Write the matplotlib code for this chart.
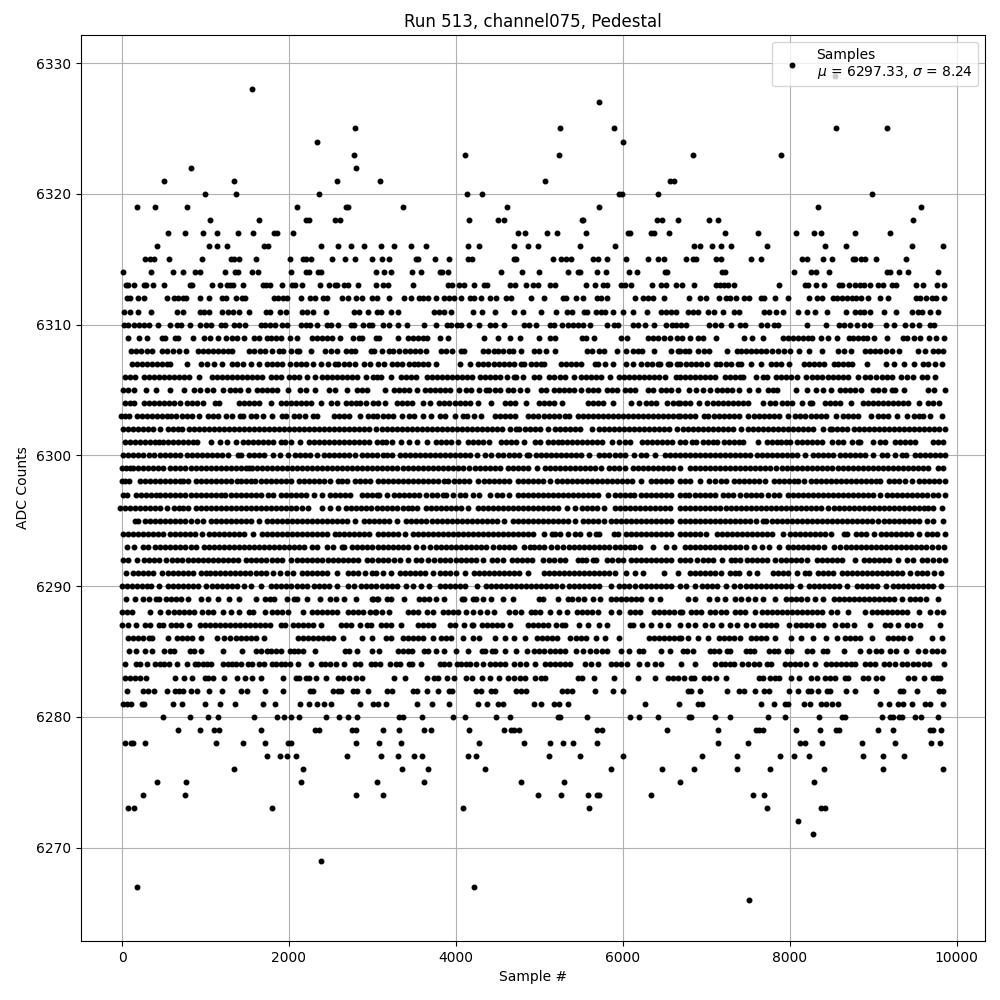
import matplotlib
matplotlib.use('Agg')
import matplotlib.pyplot as plt

# sample numbers, one list per ADC level
x_6329 = [8544]
x_6328 = [1556]
x_6327 = [5712]
x_6325 = [2792, 5244, 5892, 8556, 9168]
x_6324 = [2336, 6000]
x_6323 = [2780, 4112, 5232, 6840, 7896]
x_6322 = [824, 2804]
x_6321 = [500, 1340, 2576, 3092, 5064, 6564, 6612]
x_6320 = [992, 1364, 2360, 4136, 4316, 5952, 5988, 6420, 8988]
x_6319 = [176, 392, 776, 2096, 2684, 2708, 3368, 4616, 5712, 8340, 9576]
x_6318 = [1052, 1640, 2204, 2240, 2552, 2612, 4160, 4508, 4580, 5508, 5520, 6408, 6468, 6660, 7032, 7140, 9480]
x_6317 = [548, 752, 968, 1136, 1388, 1568, 1820, 1856, 2048, 4748, 4832, 5088, 5208, 5556, 6060, 6084, 6336, 6372, 6552, 7224, 7620, 8076, 8292, 8376, 8784, 9204]
x_6316 = [416, 1040, 1136, 1256, 1700, 1748, 2384, 2588, 2744, 2900, 3104, 3260, 3464, 3644, 4148, 4280, 4700, 4868, 4980, 5484, 5904, 6852, 6924, 7068, 7176, 7296, 7728, 8424, 8676, 9468, 9840]
x_6315 = [272, 332, 380, 560, 956, 1304, 1340, 1400, 1604, 2012, 2168, 2204, 2264, 2516, 2672, 2792, 2996, 3116, 3200, 3524, 3548, 3752, 3920, 4148, 4196, 4700, 4724,
          5160, 5256, 5316, 5376, 5640, 5700, 5808, 6036, 6300, 6420, 6492, 6756, 6840, 6876, 7116, 7176, 7536, 7656, 8148, 8208, 8400, 8508, 8760, 8784, 8856, 8904, 9036, 9396]
x_6314 = [8, 344, 608, 728, 872, 932, 1232, 1352, 1388, 1556, 1628, 2024, 2204, 2240, 2348, 2384, 3044, 3140, 3224, 3476, 3584, 3812, 3836, 3908, 4544, 4796,
          4992, 5340, 5460, 5484, 5688, 5796, 6072, 6168, 6504, 6528, 7188, 7224, 8052, 8256, 8316, 8472, 9168, 9204, 9312, 9420, 9780]
x_6313 = [44, 68, 140, 260, 284, 368, 500, 812, 836, 1076, 1172, 1256, 1292, 1328, 1448, 1688, 1724, 1772, 1920, 2036, 2072, 2156, 2372, 2480, 2552, 2576, 2660, 2708, 2828, 3044, 3128, 3188, 3488, 3900, 3956, 4040, 4100, 4220, 4340, 4376, 4652, 4712, 4844,
          4920, 4980, 5124, 5184, 5556, 5664, 5760, 5808, 5976, 6024, 6096, 6348, 6456, 6516, 6636, 6708, 6852, 7116, 7164, 7212, 7260, 7332, 7872, 8184, 8220, 8316, 8412, 8592, 8628, 8712, 8784, 8844, 8892, 8964, 9060, 9120, 9228, 9276, 9516, 9600, 9768, 9852]
x_6312 = [56, 92, 188, 260, 536, 620, 668, 728, 764, 932, 1040, 1196, 1244, 1364, 1436, 1472, 1820, 1868, 1928, 1976, 2144, 2252, 2312, 2408, 2456, 2636, 2708, 2804, 2876, 2996, 3056, 3200, 3380, 3464, 3560, 3608, 3668, 3764, 3860, 3920, 3980, 4064, 4172, 4220, 4304, 4412, 4484, 4604, 4664,
          4896, 5052, 5280, 5316, 5436, 5520, 5688, 5736, 5808, 6144, 6240, 6300, 6360, 6492, 6792, 6924, 6996, 7152, 7236, 7284, 7356, 7452, 7512, 7656, 7692, 7824, 7980, 8232, 8328, 8388, 8520, 8568, 8628, 8688, 8748, 8796, 8856, 8940, 9084, 9180, 9516, 9564, 9636, 9708, 9756, 9852]
x_6311 = [20, 92, 188, 344, 656, 728, 932, 980, 1040, 1196, 1268, 1328, 1400, 1520, 1724, 1772, 1892, 1964, 2156, 2216, 2288, 2444, 2780, 2840, 2948, 3056, 3104, 3224, 3308, 3740, 3800, 3860, 3944, 4208, 4316, 4472, 4700, 4808,
          5016, 5196, 5328, 5388, 5532, 5568, 5676, 5736, 5784, 5880, 6000, 6120, 6288, 6456, 6516, 6576, 6636, 6780, 6840, 6900, 7020, 7092, 7200, 7332, 7392, 7692, 7752, 7836, 7920, 8100, 8208, 8304, 8448, 8676, 8784, 8844, 8892, 8964, 9132, 9276, 9468, 9540, 9588, 9684, 9780]
x_6310 = [20, 68, 140, 200, 260, 320, 436, 572, 656, 704, 812, 932, 1004, 1064, 1184, 1232, 1340, 1400, 1472, 1664, 1712, 1772, 1832, 1916, 1976, 2144, 2204, 2252, 2336, 2456, 2504, 2588, 2744, 2780, 2888, 2960, 2996, 3128, 3200, 3308, 3416, 3620, 3764, 3896, 3944, 4016, 4064, 4160, 4280, 4412, 4472, 4580, 4820, 4880,
          4956, 5124, 5172, 5268, 5340, 5400, 5460, 5520, 5604, 5808, 5892, 5940, 6120, 6180, 6264, 6372, 6516, 6588, 6636, 6696, 6756, 7032, 7104, 7176, 7296, 7404, 7464, 7656, 7728, 7812, 7860, 8208, 8436, 8592, 8652, 8724, 8808, 8892, 8964, 9156, 9252, 9384, 9468, 9552, 9684, 9732]
x_6309 = [68, 200, 296, 480, 516, 640, 672, 848, 980, 1052, 1148, 1244, 1320, 1380, 1460, 1580, 1640, 1740, 1790, 1850, 1900, 2012, 2100, 2280, 2340, 2400, 2460, 2516, 2612, 2768, 2840, 2870, 3040, 3080, 3312, 3424, 3480, 3540, 3600, 3650, 3804, 3900, 4332, 4500, 4644, 4764, 4992, 5124, 5184, 5516, 5564, 5652, 5976, 6052, 6300, 6360, 6420, 6492, 6568, 6652,
          6712, 6808, 6904, 6964, 7120, 7456, 7552, 7684, 7924, 7984, 8040, 8100, 8160, 8220, 8264, 8380, 8456, 8564, 8704, 8760, 8820, 8880, 8924, 9004, 9160, 9352, 9404, 9484, 9564, 9664, 9756, 9844]
x_6308 = [108, 170, 230, 300, 360, 476, 540, 610, 680, 764, 908, 970, 1030, 1090, 1150, 1210, 1270, 1320, 1520, 1580, 1650, 1710, 1800, 1880, 1930, 2030, 2090, 2120, 2260, 2430, 2500, 2570, 2680, 2740, 2790, 2980, 3020, 3112, 3200, 3250, 3324, 3390, 3450, 3510, 3570, 3644, 3816, 3880, 3950, 4060, 4100, 4320, 4380, 4452, 4510, 4570, 4630, 4684, 4780, 4936, 5000, 5080, 5184, 5570, 5630, 5712, 5772, 5932, 6032, 6120, 6180, 6232, 6376, 6572, 6660,
          6690, 6740, 6790, 6904, 6970, 7032, 7252, 7364, 7420, 7480, 7540, 7600, 7660, 7720, 7790, 7864, 7932, 8000, 8116, 8236, 8392, 8572, 8644, 8728, 8904, 8960, 9020, 9080, 9150, 9220, 9304, 9532, 9616, 9712, 9770, 9832]
x_6307 = [116, 176, 236, 296, 356, 416, 476, 536, 580, 780, 948, 1020, 1104, 1200, 1320, 1380, 1450, 1548, 1644, 1740, 1800, 1860, 1920, 2010, 2080, 2140, 2200, 2290, 2384, 2470, 2550, 2590, 2660, 2720, 2790, 2900, 2970, 3072, 3144, 3232, 3290, 3350, 3440, 3492, 3550, 3610, 3670, 3764, 4044, 4164, 4260, 4320, 4380, 4460, 4520, 4580, 4640, 4700, 4780, 4810, 4900, 4960, 5020, 5050, 5260, 5320, 5380, 5440, 5500, 5670, 5700, 5790, 5880, 6040, 6124, 6220, 6290, 6350, 6420, 6450, 6540, 6570, 6650,
          6690, 6760, 6820, 6880, 6940, 7004, 7120, 7160, 7240, 7300, 7380, 7420, 7532, 7656, 7770, 7830, 7900, 7996, 8170, 8230, 8290, 8350, 8410, 8524, 8580, 8640, 8700, 8744, 8924, 9148, 9252, 9364, 9484, 9592, 9660, 9744, 9824]
x_6306 = [40, 90, 160, 260, 320, 380, 440, 500, 560, 620, 680, 740, 800, 920, 1080, 1140, 1200, 1260, 1320, 1380, 1440, 1500, 1560, 1620, 1680, 1780, 1840, 1910, 2000, 2060, 2120, 2210, 2312, 2400, 2460, 2520, 2580, 2640, 2700, 2760, 2820, 2920, 3010, 3060, 3100, 3220, 3340, 3400, 3460, 3520, 3652, 3710, 3770, 3830, 3890, 3950, 4010, 4070, 4130, 4192, 4284, 4344, 4404, 4464, 4524, 4612, 4700, 4720, 4800, 4930, 4990, 5120, 5180, 5250, 5310, 5420, 5500, 5560, 5620, 5680, 5740, 5844, 5952, 6012, 6072, 6132, 6192, 6252, 6312, 6372, 6432, 6500, 6640,
          6684, 6740, 6800, 6860, 6920, 6980, 7040, 7104, 7220, 7280, 7340, 7400, 7440, 7600, 7680, 7732, 7840, 7900, 7960, 8010, 8092, 8192, 8272, 8332, 8392, 8452, 8512, 8572, 8632, 8692, 8816, 8900, 8960, 9030, 9110, 9170, 9230, 9330, 9400, 9480, 9590, 9650, 9740]
x_6305 = [8, 68, 140, 288, 404, 580, 740, 860, 928, 1020, 1090, 1212, 1290, 1350, 1410, 1510, 1616, 1680, 1740, 1800, 1860, 1990, 2130, 2200, 2310, 2480, 2548, 2692, 2820, 2880, 2930, 3156, 3264, 3320, 3380, 3440, 3530, 3632, 3690, 3750, 3810, 3870, 3930, 4032, 4120, 4180, 4280, 4360, 4400, 4472, 4524, 4620, 4680, 4770, 4852, 5020, 5080, 5172, 5232, 5292, 5352, 5412, 5500, 5580, 5640, 5700, 5810, 5870, 5930, 6024, 6090, 6140, 6300, 6360, 6452, 6512, 6572, 6660,
          6790, 6880, 6960, 7040, 7128, 7190, 7250, 7310, 7396, 7512, 7624, 7740, 7800, 7850, 8072, 8212, 8320, 8400, 8496, 8596, 8660, 8720, 8780, 8856, 9000, 9060, 9130, 9224, 9260, 9372, 9652, 9724, 9856]
x_6304 = [32, 100, 140, 260, 320, 380, 440, 500, 560, 620, 700, 776, 840, 900, 970, 1108, 1160, 1400, 1460, 1520, 1580, 1640, 1780, 1908, 1968, 2028, 2088, 2148, 2208, 2268, 2388, 2500, 2570, 2680, 2740, 2800, 2850, 2924, 3010, 3072, 3152, 3292, 3352, 3412, 3472, 3604, 3692, 3792, 3860, 3920, 3990, 4050, 4110, 4170, 4270, 4424, 4592, 4652, 4712, 4844, 4992, 5052, 5112, 5172, 5272, 5580, 5640, 5700, 5760, 5884, 6100, 6190, 6272, 6332, 6392, 6524, 6600, 6660,
          6690, 6750, 6810, 6910, 7004, 7084, 7144, 7204, 7264, 7324, 7384, 7444, 7504, 7676, 7760, 7820, 7912, 7972, 8032, 8144, 8240, 8270, 8420, 8480, 8540, 8600, 8736, 8872, 8932, 8992, 9052, 9112, 9172, 9232, 9292, 9352, 9412, 9544, 9660, 9720, 9790]
x_6303 = [-8, 40, 84, 180, 240, 300, 360, 420, 480, 540, 590, 652, 720, 780, 840, 920, 1030, 1090, 1150, 1250, 1320, 1410, 1450, 1540, 1600, 1690, 1792, 1920, 1960, 2060, 2120, 2190, 2290, 2340, 2540, 2600, 2660, 2720, 2852, 2950, 3010, 3050, 3124, 3184, 3244, 3352, 3440, 3500, 3610, 3704, 3804, 3864, 3984, 4080, 4130, 4220, 4304, 4464, 4524, 4584, 4644, 4704, 4860, 4920, 4980, 5060, 5120, 5180, 5230, 5312, 5350, 5460, 5520, 5580, 5640, 5700, 5760, 5820, 5880, 5940, 6000, 6060, 6120, 6180, 6240, 6300, 6360, 6420, 6480, 6540, 6600, 6660,
          6690, 6750, 6810, 6870, 6970, 7024, 7090, 7150, 7210, 7270, 7330, 7390, 7496, 7572, 7632, 7692, 7752, 7812, 7872, 7976, 8060, 8120, 8180, 8256, 8316, 8376, 8436, 8552, 8632, 8692, 8752, 8812, 8968, 9060, 9120, 9180, 9290, 9404, 9490, 9550, 9600, 9684, 9824]
x_6302 = [8, 68, 128, 188, 248, 308, 368, 452, 550, 610, 670, 720, 800, 860, 920, 980, 1040, 1100, 1160, 1220, 1280, 1340, 1400, 1460, 1520, 1580, 1640, 1700, 1760, 1820, 1880, 1940, 2000, 2060, 2120, 2180, 2240, 2300, 2360, 2420, 2480, 2540, 2600, 2660, 2720, 2780, 2840, 2900, 2960, 3040, 3112, 3172, 3232, 3292, 3352, 3412, 3472, 3532, 3592, 3652, 3712, 3772, 3832, 3892, 3952, 4012, 4072, 4132, 4192, 4252, 4312, 4372, 4432, 4492, 4552, 4644, 4720, 4750, 4824, 4884, 4944, 5004, 5104, 5192, 5252, 5312, 5372, 5432, 5492, 5632, 5712, 5772, 5832, 5892, 5952, 6012, 6072, 6132, 6192, 6252, 6312, 6372, 6432, 6492, 6552, 6644,
          6724, 6784, 6844, 6904, 6964, 7024, 7084, 7144, 7204, 7264, 7324, 7416, 7504, 7564, 7624, 7684, 7744, 7804, 7864, 7924, 7984, 8044, 8104, 8164, 8224, 8284, 8396, 8480, 8510, 8560, 8620, 8680, 8764, 8824, 8884, 8944, 9004, 9064, 9124, 9184, 9244, 9304, 9364, 9424, 9484, 9544, 9604, 9664, 9724, 9784, 9864]
x_6301 = [40, 100, 160, 220, 280, 340, 400, 440, 490, 550, 610, 670, 730, 790, 850, 900, 1060, 1168, 1260, 1360, 1450, 1510, 1570, 1630, 1690, 1750, 1810, 1900, 1950, 2030, 2132, 2240, 2300, 2360, 2420, 2480, 2540, 2600, 2660, 2720, 2780, 2840, 2900, 2960, 3060, 3120, 3160, 3240, 3340, 3440, 3530, 3652, 3760, 3820, 3880, 3940, 4030, 4150, 4210, 4270, 4330, 4400, 4540, 4600, 4660, 4720, 4810, 4950, 5010, 5100, 5160, 5220, 5270, 5330, 5390, 5450, 5510, 5570, 5630, 5690, 5750, 5870, 5950, 6030, 6090, 6230, 6290, 6350, 6410, 6470, 6530, 6590, 6680,
          6740, 6824, 6880, 6960, 7020, 7080, 7130, 7210, 7270, 7330, 7390, 7440, 7624, 7730, 7790, 7850, 7900, 7950, 8000, 8090, 8150, 8210, 8270, 8330, 8390, 8500, 8580, 8640, 8740, 8820, 8840, 9000, 9080, 9136, 9260, 9320, 9380, 9440, 9500, 9720, 9780, 9830]
x_6300 = [8, 68, 128, 188, 248, 320, 380, 460, 520, 580, 640, 700, 780, 840, 900, 960, 1020, 1080, 1140, 1200, 1270, 1390, 1430, 1520, 1580, 1640, 1700, 1810, 1890, 1990, 2070, 2130, 2190, 2250, 2330, 2420, 2480, 2540, 2600, 2660, 2720, 2790, 2880, 2940, 3000, 3060, 3130, 3170, 3232, 3330, 3390, 3450, 3510, 3570, 3630, 3690, 3750, 3810, 3870, 3930, 3990, 4050, 4110, 4170, 4250, 4350, 4420, 4510, 4570, 4630, 4690, 4760, 4850, 4880, 4960, 5020, 5080, 5140, 5200, 5260, 5320, 5380, 5440, 5500, 5600, 5720, 5780, 5840, 5900, 5960, 6020, 6130, 6220, 6280, 6380, 6510, 6570, 6630, 6680,
          6740, 6800, 6860, 6920, 6980, 7040, 7100, 7160, 7220, 7280, 7340, 7400, 7460, 7520, 7610, 7670, 7730, 7790, 7850, 7910, 7970, 8030, 8090, 8180, 8280, 8340, 8400, 8460, 8520, 8600, 8660, 8720, 8780, 8840, 8900, 9000, 9100, 9160, 9260, 9350, 9390, 9500, 9560, 9620, 9680, 9740, 9800, 9860]
x_6299 = [0, 50, 100, 130, 190, 250, 310, 370, 430, 490, 580, 640, 700, 760, 820, 880, 940, 1000, 1060, 1120, 1180, 1240, 1300, 1360, 1420, 1480, 1520, 1560, 1620, 1680, 1740, 1800, 1860, 1920, 1980, 2040, 2100, 2160, 2220, 2280, 2340, 2400, 2460, 2520, 2580, 2640, 2700, 2760, 2820, 2880, 2940, 3000, 3060, 3120, 3180, 3240, 3300, 3360, 3420, 3480, 3540, 3600, 3660, 3720, 3780, 3840, 3900, 3960, 4020, 4080, 4160, 4230, 4290, 4350, 4410, 4470, 4530, 4620, 4680, 4740, 4800, 4860, 4970, 5070, 5130, 5190, 5250, 5310, 5370, 5430, 5490, 5550, 5610, 5670, 5740, 5830, 5890, 5950, 6020, 6120, 6180, 6240, 6300, 6360, 6420, 6480, 6540, 6600, 6680,
          6800, 6860, 6920, 6980, 7040, 7100, 7160, 7220, 7280, 7340, 7400, 7460, 7520, 7580, 7640, 7700, 7760, 7840, 7910, 7970, 8030, 8090, 8150, 8210, 8270, 8330, 8390, 8440, 8500, 8580, 8640, 8700, 8760, 8820, 8880, 8940, 9000, 9060, 9120, 9180, 9240, 9300, 9360, 9420, 9480, 9540, 9600, 9660, 9770, 9830]
x_6298 = [0, 40, 80, 212, 270, 330, 390, 450, 510, 570, 630, 690, 730, 790, 880, 940, 1000, 1060, 1120, 1180, 1240, 1300, 1380, 1420, 1480, 1540, 1590, 1670, 1730, 1790, 1850, 1910, 1970, 2030, 2120, 2180, 2240, 2300, 2360, 2420, 2490, 2590, 2630, 2700, 2790, 2850, 2910, 2970, 3070, 3130, 3190, 3250, 3310, 3370, 3430, 3490, 3550, 3610, 3670, 3730, 3790, 3860, 3900, 3980, 4040, 4100, 4160, 4260, 4340, 4400, 4460, 4520, 4580, 4640, 4740, 4800, 4860, 4920, 4980, 5040, 5130, 5210, 5270, 5330, 5390, 5450, 5510, 5570, 5630, 5690, 5750, 5810, 5870, 5930, 5990, 6050, 6110, 6220, 6340, 6400, 6460, 6520, 6580, 6680,
          6740, 6800, 6920, 7030, 7100, 7170, 7240, 7330, 7390, 7450, 7510, 7570, 7630, 7700, 7810, 7870, 7930, 7990, 8050, 8100, 8170, 8250, 8310, 8370, 8430, 8490, 8550, 8610, 8670, 8730, 8790, 8850, 8910, 8970, 9030, 9080, 9190, 9250, 9310, 9380, 9460, 9550, 9610, 9670, 9730, 9790, 9860]
x_6297 = [8, 60, 170, 230, 290, 350, 410, 450, 520, 580, 640, 700, 760, 820, 880, 940, 1000, 1060, 1120, 1180, 1230, 1300, 1360, 1420, 1480, 1540, 1600, 1660, 1750, 1810, 1900, 1960, 2020, 2080, 2140, 2200, 2300, 2400, 2490, 2550, 2610, 2670, 2730, 2880, 2940, 2990, 3060, 3080, 3180, 3260, 3320, 3380, 3440, 3500, 3560, 3640, 3710, 3770, 3850, 3884, 3960, 4050, 4110, 4200, 4280, 4412, 4490, 4550, 4640, 4740, 4800, 4860, 4920, 4980, 5040, 5100, 5160, 5220, 5280, 5340, 5400, 5460, 5520, 5580, 5640, 5700, 5820, 5900, 5960, 6020, 6090, 6130, 6220, 6280, 6340, 6400, 6460, 6520, 6580, 6680,
          6740, 6790, 6860, 6920, 6980, 7040, 7100, 7200, 7260, 7320, 7400, 7470, 7530, 7590, 7650, 7740, 7810, 7870, 7980, 8040, 8100, 8160, 8220, 8280, 8340, 8400, 8460, 8520, 8580, 8640, 8700, 8760, 8820, 8880, 8940, 9000, 9080, 9170, 9230, 9290, 9350, 9410, 9470, 9530, 9590, 9650, 9710, 9770, 9860]
x_6296 = [-20, 40, 100, 160, 220, 280, 340, 400, 460, 540, 620, 680, 730, 790, 880, 940, 1000, 1060, 1120, 1180, 1240, 1300, 1360, 1420, 1480, 1540, 1600, 1660, 1720, 1780, 1840, 1900, 1960, 2020, 2080, 2150, 2230, 2390, 2490, 2590, 2680, 2740, 2800, 2860, 2920, 2980, 3060, 3120, 3180, 3240, 3300, 3360, 3420, 3470, 3530, 3640, 3700, 3760, 3820, 3880, 3940, 4000, 4060, 4150, 4260, 4320, 4380, 4440, 4500, 4560, 4620, 4680, 4740, 4800, 4860, 4920, 4980, 5040, 5100, 5160, 5220, 5330, 5430, 5510, 5570, 5630, 5690, 5780, 5910, 5970, 6030, 6090, 6150, 6210, 6270, 6330, 6390, 6450, 6510, 6570, 6680,
          6740, 6800, 6860, 6920, 6980, 7040, 7100, 7160, 7230, 7300, 7360, 7420, 7480, 7540, 7600, 7660, 7720, 7780, 7840, 7900, 7960, 8020, 8080, 8140, 8200, 8260, 8320, 8380, 8460, 8530, 8590, 8650, 8710, 8770, 8830, 8890, 8950, 9010, 9070, 9130, 9190, 9250, 9310, 9370, 9430, 9490, 9550, 9610, 9660, 9720, 9820]
x_6295 = [150, 190, 280, 340, 400, 460, 520, 580, 640, 700, 760, 820, 900, 970, 1060, 1120, 1180, 1240, 1300, 1360, 1420, 1480, 1540, 1640, 1740, 1800, 1860, 1920, 1980, 2040, 2100, 2160, 2220, 2280, 2340, 2400, 2460, 2520, 2580, 2640, 2700, 2790, 2900, 2960, 3020, 3080, 3140, 3200, 3300, 3400, 3460, 3520, 3580, 3640, 3710, 3770, 3830, 3890, 3950, 4010, 4070, 4130, 4190, 4250, 4310, 4370, 4430, 4490, 4580, 4680, 4740, 4800, 4860, 4920, 4980, 5040, 5100, 5160, 5220, 5280, 5340, 5430, 5520, 5580, 5640, 5700, 5770, 5860, 5920, 5980, 6040, 6100, 6160, 6220, 6280, 6340, 6400, 6460, 6520, 6580, 6680,
          6740, 6800, 6860, 6920, 6980, 7040, 7100, 7160, 7220, 7280, 7340, 7400, 7460, 7520, 7600, 7680, 7720, 7790, 7850, 7910, 7970, 8030, 8090, 8150, 8210, 8270, 8330, 8390, 8450, 8510, 8570, 8630, 8690, 8750, 8810, 8870, 8930, 8990, 9060, 9130, 9190, 9250, 9310, 9370, 9430, 9490, 9550, 9640, 9720, 9840]
x_6294 = [8, 68, 128, 188, 248, 308, 368, 428, 490, 570, 630, 690, 750, 810, 870, 960, 1040, 1100, 1160, 1220, 1280, 1340, 1400, 1460, 1570, 1680, 1740, 1800, 1860, 1920, 1980, 2040, 2100, 2160, 2220, 2280, 2340, 2400, 2460, 2550, 2600, 2660, 2720, 2780, 2840, 2900, 2960, 3070, 3130, 3190, 3250, 3310, 3390, 3480, 3540, 3600, 3660, 3720, 3780, 3840, 3900, 3960, 4020, 4080, 4140, 4200, 4260, 4320, 4380, 4440, 4500, 4560, 4620, 4680, 4740, 4800, 4860, 4920, 5050, 5150, 5190, 5252, 5344, 5430, 5490, 5600, 5680, 5720, 5890, 5940, 6040, 6100, 6160, 6220, 6280, 6340, 6400, 6460, 6520, 6580, 6680,
          6740, 6800, 6860, 6920, 7000, 7130, 7190, 7250, 7310, 7370, 7430, 7490, 7550, 7610, 7670, 7730, 7790, 7920, 8000, 8060, 8120, 8180, 8240, 8300, 8360, 8420, 8490, 8650, 8690, 8790, 8850, 8910, 9010, 9090, 9150, 9210, 9270, 9330, 9390, 9450, 9550, 9640, 9700, 9760, 9860]
x_6293 = [60, 140, 250, 310, 400, 460, 520, 580, 640, 700, 760, 820, 880, 980, 1040, 1100, 1160, 1220, 1280, 1340, 1400, 1460, 1520, 1580, 1640, 1700, 1760, 1820, 1880, 1940, 2000, 2060, 2120, 2180, 2270, 2340, 2460, 2528, 2630, 2660, 2750, 2810, 2870, 2930, 2990, 3070, 3130, 3190, 3250, 3310, 3370, 3430, 3520, 3600, 3690, 3760, 3820, 3880, 3940, 4000, 4060, 4120, 4180, 4240, 4300, 4360, 4440, 4520, 4580, 4640, 4700, 4820, 4890, 4930, 5000, 5060, 5140, 5210, 5280, 5360, 5420, 5480, 5540, 5600, 5660, 5720, 5780, 5840, 5900, 5960, 6020, 6080, 6130, 6200, 6364, 6520, 6610,
          6740, 6800, 6860, 6920, 6980, 7040, 7100, 7160, 7220, 7280, 7340, 7400, 7480, 7570, 7670, 7756, 7876, 7980, 8040, 8100, 8160, 8220, 8280, 8340, 8410, 8530, 8600, 8670, 8730, 8790, 8850, 8910, 8970, 9030, 9090, 9150, 9210, 9270, 9330, 9390, 9450, 9510, 9570, 9630, 9700, 9780, 9850]
x_6292 = [8, 70, 180, 260, 320, 380, 440, 530, 600, 660, 720, 790, 850, 910, 970, 1030, 1090, 1150, 1210, 1270, 1330, 1390, 1490, 1540, 1600, 1660, 1720, 1800, 1860, 1920, 2030, 2090, 2150, 2210, 2270, 2330, 2390, 2470, 2530, 2590, 2650, 2710, 2770, 2830, 2930, 3000, 3070, 3130, 3190, 3260, 3330, 3430, 3520, 3580, 3660, 3740, 3810, 3870, 3930, 4000, 4060, 4120, 4180, 4240, 4330, 4430, 4490, 4570, 4670, 4730, 4790, 4850, 4910, 5040, 5120, 5180, 5250, 5310, 5460, 5510, 5560, 5640, 5680, 5810, 5870, 5940, 6000, 6100, 6160, 6220, 6280, 6340, 6400, 6460, 6520, 6580, 6680,
          6740, 6800, 6884, 6960, 7020, 7080, 7190, 7290, 7340, 7400, 7490, 7550, 7610, 7670, 7730, 7820, 7890, 7950, 8010, 8070, 8130, 8210, 8330, 8390, 8450, 8510, 8570, 8630, 8780, 8890, 8950, 9010, 9070, 9130, 9190, 9300, 9400, 9480, 9580, 9640, 9720, 9790, 9860]
x_6291 = [52, 130, 190, 250, 310, 370, 480, 550, 610, 670, 730, 790, 850, 940, 1000, 1050, 1110, 1170, 1230, 1290, 1350, 1410, 1470, 1530, 1610, 1670, 1730, 1810, 1890, 1972, 2044, 2160, 2220, 2280, 2340, 2400, 2460, 2580, 2710, 2770, 2830, 2910, 3000, 3040, 3130, 3220, 3330, 3390, 3450, 3510, 3570, 3630, 3730, 3810, 3870, 3930, 4000, 4112, 4220, 4280, 4340, 4400, 4460, 4520, 4580, 4640, 4700, 4760, 4860, 5060, 5120, 5180, 5240, 5300, 5360, 5420, 5480, 5540, 5600, 5660, 5720, 5780, 5840, 5900, 6040, 6150, 6240, 6492, 6660,
          6810, 6870, 6930, 6990, 7050, 7110, 7180, 7280, 7340, 7390, 7512, 7612, 7800, 7860, 7920, 7980, 8090, 8180, 8230, 8340, 8400, 8460, 8520, 8620, 8680, 8740, 8800, 8860, 8920, 8980, 9040, 9100, 9160, 9220, 9280, 9340, 9440, 9530, 9590, 9650, 9730, 9816]
x_6290 = [0, 60, 120, 180, 240, 300, 350, 448, 550, 610, 670, 730, 790, 850, 910, 1010, 1080, 1140, 1200, 1260, 1320, 1380, 1460, 1550, 1670, 1780, 1840, 1900, 1970, 2030, 2090, 2150, 2220, 2300, 2360, 2420, 2480, 2580, 2710, 2780, 2860, 2920, 2980, 3040, 3120, 3180, 3240, 3300, 3400, 3480, 3580, 3680, 3810, 3870, 3930, 3990, 4050, 4110, 4250, 4360, 4420, 4480, 4540, 4600, 4660, 4720, 4780, 4840, 4900, 4960, 5020, 5080, 5140, 5200, 5270, 5360, 5420, 5480, 5540, 5600, 5660, 5720, 5860, 5950, 6010, 6070, 6150, 6220, 6280, 6340, 6400, 6460, 6520, 6580, 6680,
          6760, 6870, 6950, 7010, 7070, 7130, 7240, 7330, 7400, 7470, 7530, 7590, 7650, 7710, 7770, 7830, 7890, 7950, 8010, 8120, 8230, 8290, 8350, 8410, 8470, 8530, 8590, 8680, 8800, 8860, 8920, 8980, 9040, 9150, 9240, 9300, 9360, 9420, 9480, 9540, 9600, 9660, 9720, 9810]
x_6289 = [48, 160, 250, 320, 410, 440, 530, 590, 650, 710, 790, 950, 1030, 1148, 1280, 1404, 1604, 1710, 1770, 1820, 1972, 2060, 2100, 2220, 2372, 2488, 2560, 2660, 2800, 2990, 3010, 3060, 3070, 3180, 3220, 3372, 3560, 3620, 3680, 3760, 3852, 4070, 4100, 4200, 4240, 4330, 4420, 4560, 4680, 4990, 5040, 5220, 5340, 5390, 5460, 5540, 5644, 5732, 5860, 5920, 5980, 6040, 6100, 6160, 6220, 6340, 6444,
          6780, 6860, 7032, 7124, 7224, 7340, 7420, 7504, 7580, 7680, 7824, 7950, 8010, 8070, 8130, 8210, 8304, 8404, 8530, 8590, 8650, 8710, 8770, 8830, 8890, 8950, 9010, 9070, 9130, 9190, 9250, 9350, 9440, 9500, 9560, 9630, 9776]
x_6288 = [0, 60, 120, 332, 460, 548, 620, 680, 740, 800, 860, 960, 1030, 1090, 1208, 1310, 1400, 1520, 1570, 1708, 1800, 1860, 1920, 1990, 2168, 2280, 2340, 2400, 2460, 2520, 2580, 2710, 2770, 2830, 2890, 2970, 3030, 3044, 3110, 3200, 3420, 3480, 3540, 3650, 3720, 3840, 3900, 3960, 4020, 4120, 4204, 4290, 4370, 4460, 4640, 4710, 4780, 4900, 4950, 5010, 5132, 5240, 5330, 5450, 5510, 5570, 5630, 5700, 5860, 5950, 6080, 6140, 6200, 6370, 6430, 6490, 6550, 6610, 6680,
          6710, 6820, 6880, 6940, 7050, 7110, 7170, 7240, 7340, 7400, 7460, 7580, 7664, 7730, 7790, 7850, 7910, 7970, 8030, 8090, 8150, 8210, 8270, 8330, 8390, 8490, 8570, 8700, 8896, 8990, 9050, 9110, 9170, 9230, 9290, 9350, 9410, 9550, 9680, 9760, 9830]
x_6287 = [0, 70, 172, 270, 330, 440, 490, 590, 650, 710, 800, 930, 990, 1050, 1110, 1170, 1230, 1290, 1350, 1410, 1470, 1530, 1590, 1650, 1710, 1770, 1900, 1950, 2050, 2110, 2170, 2230, 2290, 2380, 2620, 2680, 2740, 2850, 2932, 2980, 3100, 3160, 3220, 3340, 3540, 3600, 3660, 3720, 3930, 3990, 4100, 4190, 4210, 4310, 4370, 4430, 4490, 4550, 4650, 4860, 4920, 4980, 5040, 5100, 5200, 5272, 5310, 5472, 5580, 5712, 5812, 6080, 6120, 6232, 6332, 6444, 6544,
          6690, 6780, 6860, 6990, 7072, 7172, 7284, 7372, 7470, 7560, 7650, 7710, 7770, 7830, 7990, 8070, 8130, 8190, 8250, 8340, 8396, 8540, 8620, 8690, 8764, 8956, 9140, 9200, 9300, 9410, 9480, 9560, 9796]
x_6286 = [70, 130, 190, 250, 320, 360, 548, 660, 720, 780, 840, 950, 1140, 1220, 1290, 1360, 1420, 1480, 1540, 1600, 1700, 2110, 2170, 2230, 2290, 2350, 2410, 2470, 2530, 2650, 2880, 3000, 3160, 3220, 3370, 3430, 3490, 3550, 3610, 3720, 3820, 3880, 3940, 4090, 4200, 4280, 4470, 4590, 4690, 4830, 4970, 5030, 5090, 5150, 5210, 5370, 5440, 5500, 5560, 5680, 5790, 5950, 6310, 6370, 6430, 6490, 6550, 6610, 6670,
          6700, 6780, 6900, 7020, 7150, 7210, 7270, 7330, 7400, 7530, 7590, 7650, 7710, 7820, 8010, 8130, 8284, 8430, 8560, 8660, 8720, 8780, 8840, 8980, 9180, 9240, 9300, 9360, 9440, 9700, 9820]
x_6285 = [80, 164, 272, 356, 500, 572, 620, 812, 860, 944, 1208, 1436, 1604, 1664, 1736, 1784, 1844, 1904, 2012, 2060, 2108, 2168, 2312, 2672, 2720, 2816, 2996, 3080, 3308, 3368, 3428, 3476, 3620, 3668, 3764, 3860, 4004, 4148, 4316, 4352, 4436, 4472, 4592, 4724, 4856,
          4932, 4992, 5052, 5132, 5192, 5252, 5312, 5436, 5520, 5604, 5676, 5748, 5808, 5976, 6076, 6192, 6240, 6456, 6564, 6720, 6768, 6840, 7044, 7092, 7152, 7248, 7284, 7476, 7524, 7572, 7752, 7812, 7860, 7968, 8016, 8208, 8268, 8400, 8448, 8652, 8844, 8952, 9036, 9096, 9204, 9276, 9396, 9540, 9624, 9708, 9768, 9840]
x_6284 = [32, 164, 212, 296, 392, 452, 500, 560, 656, 776, 872, 908, 968, 1016, 1064, 1208, 1268, 1316, 1364, 1424, 1508, 1556, 1640, 1700, 1796, 1844, 1904, 1952, 2012, 2108, 2264, 2384, 2432, 2492, 2564, 2660, 2792, 2852, 2984, 3032, 3092, 3212, 3284, 3332, 3440, 3476, 3584, 3812, 3860, 3920, 4016, 4064, 4124, 4172, 4244, 4328, 4412, 4472, 4532, 4592, 4700, 4772, 4844,
          4944, 5072, 5132, 5192, 5252, 5312, 5364, 5544, 5616, 5700, 5856, 5916, 5976, 6048, 6192, 6288, 6384, 6456, 6696, 6864, 7104, 7176, 7224, 7284, 7332, 7428, 7500, 7572, 7632, 7728, 7776, 7944, 8004, 8064, 8124, 8196, 8304, 8436, 8496, 8556, 8616, 8676, 8736, 8784, 8904, 8964, 9024, 9132, 9192, 9264, 9348, 9408, 9480, 9540, 9612, 9672, 9852]
x_6283 = [32, 92, 152, 212, 284, 632, 740, 836, 992, 1028, 1088, 1224, 1376, 1472, 1556, 1664, 1928, 2084, 2120, 2204, 2240, 2324, 2444, 2588, 2648, 2720, 2804, 2876, 3260, 3392, 3656, 3740, 3788, 3896, 3980, 4124, 4196, 4316, 4412, 4520, 4628, 4700, 4772, 4832,
          4944, 5016, 5064, 5460, 5508, 5652, 5892, 6180, 6384, 6540, 6600, 6660, 6732, 6816, 6852, 6972, 7032, 7116, 7236, 7632, 7680, 7764, 7824, 7872, 8016, 8112, 8256, 8328, 8424, 8484, 8544, 8664, 8700, 8880, 8940, 9036, 9108, 9420, 9492, 9612, 9720, 9768, 9804]
x_6282 = [56, 248, 308, 380, 536, 632, 680, 728, 824, 896, 1040, 1196, 1424, 1496, 1712, 1928, 2252, 2288, 2528, 2588, 2624, 2768, 2816, 2948, 3176, 3236, 3488, 3536, 3656, 3788, 3920, 3956, 4244, 4304, 4424, 4472, 4724, 4784, 4844,
          5268, 5328, 5388, 5664, 5880, 6000, 6780, 6816, 6924, 7248, 7392, 7452, 7584, 7692, 7752, 7992, 8100, 8220, 8256, 8340, 8448, 8484, 8676, 8784, 9036, 9324, 9360, 9528, 9792, 9840]
x_6281 = [8, 56, 104, 236, 260, 608, 716, 992, 1172, 1352, 1688, 1832, 2132, 2240, 2336, 2420, 2504, 2852, 3008, 3068, 3164, 3536, 3716, 3920, 4268, 4376, 4508, 4568,
          4932, 5016, 5172, 5232, 5340, 6264, 6672, 6900, 6948, 7656, 7812, 7944, 7980, 8172, 8244, 8376, 8436, 8508, 8580, 9084, 9192, 9300, 9360, 9468, 9624, 9684, 9840]
x_6280 = [488, 812, 1028, 1148, 1580, 1856, 1940, 2024, 2116, 2444, 2600, 2708, 2816, 3320, 3368, 3596, 3968, 4112, 4484, 4652,
          5220, 5244, 5568, 6084, 6192, 6420, 6792, 6816, 7104, 7284, 7740, 7944, 8352, 8628, 8664, 9108, 9204, 9240, 9312, 9348, 9504, 9576, 9780]
x_6279 = [668, 932, 1100, 1160, 1664, 2312, 2360, 2756, 2804, 3128, 3320, 3620, 3704, 4160, 4580, 4664, 4700, 4760,
          5688, 5748, 6528, 7140, 7596, 7632, 7680, 8076, 8364, 8556, 8592, 9060, 9240, 9684, 9720, 9816]
x_6278 = [32, 104, 128, 272, 1124, 1448, 1712, 1988, 2024, 2804, 3080, 3344, 4280, 4820,
          5124, 5280, 5400, 5688, 7140, 7500, 8124, 8184, 8388, 8868, 9264, 9696, 9804]
x_6277 = [1736, 1892, 1976, 2084, 2696, 3104, 3308, 3500, 3596, 4148, 4244,
          5112, 5484, 6000, 6948, 7368, 7884, 8052, 8232, 8880, 9120, 9372]
x_6276 = [1340, 2168, 3356, 3668, 4352, 5856, 6468, 6852, 7368, 7764, 8412, 9120, 9840]
x_6275 = [416, 764, 2144, 3056, 3620, 4784, 5292, 6684, 8292]
x_6274 = [248, 752, 2804, 3128, 4980, 5256, 5580, 5688, 5712, 6336, 7560, 7692]
x_6273 = [68, 140, 1796, 4088, 5592, 7728, 8376, 8424]
x_6272 = [8100]
x_6271 = [8280]
x_6269 = [2384]
x_6267 = [176, 4220]
x_6266 = [7512]

levels = {6329: x_6329, 6328: x_6328, 6327: x_6327, 6325: x_6325, 6324: x_6324, 6323: x_6323, 6322: x_6322,
          6321: x_6321, 6320: x_6320, 6319: x_6319, 6318: x_6318, 6317: x_6317, 6316: x_6316, 6315: x_6315,
          6314: x_6314, 6313: x_6313, 6312: x_6312, 6311: x_6311, 6310: x_6310, 6309: x_6309, 6308: x_6308,
          6307: x_6307, 6306: x_6306, 6305: x_6305, 6304: x_6304, 6303: x_6303, 6302: x_6302, 6301: x_6301,
          6300: x_6300, 6299: x_6299, 6298: x_6298, 6297: x_6297, 6296: x_6296, 6295: x_6295, 6294: x_6294,
          6293: x_6293, 6292: x_6292, 6291: x_6291, 6290: x_6290, 6289: x_6289, 6288: x_6288, 6287: x_6287,
          6286: x_6286, 6285: x_6285, 6284: x_6284, 6283: x_6283, 6282: x_6282, 6281: x_6281, 6280: x_6280,
          6279: x_6279, 6278: x_6278, 6277: x_6277, 6276: x_6276, 6275: x_6275, 6274: x_6274, 6273: x_6273,
          6272: x_6272, 6271: x_6271, 6269: x_6269, 6267: x_6267, 6266: x_6266}

samples = []
counts = []
for level, xs in levels.items():
    samples += xs
    counts += [level] * len(xs)

fig, ax = plt.subplots(figsize=(10, 10), dpi=100)
ax.plot(samples, counts, 'k.', markersize=6.5, label='Samples\n$\\mu$ = 6297.33, $\\sigma$ = 8.24')
ax.set_xlim(-492, 10339)
ax.set_ylim(6262.85, 6332.15)
ax.set_xlabel('Sample #')
ax.set_ylabel('ADC Counts')
ax.set_title('Run 513, channel075, Pedestal')
ax.grid(True)
ax.legend(loc='upper right')
fig.subplots_adjust(left=0.081, right=0.985, top=0.965, bottom=0.059)
fig.savefig('out.png')
